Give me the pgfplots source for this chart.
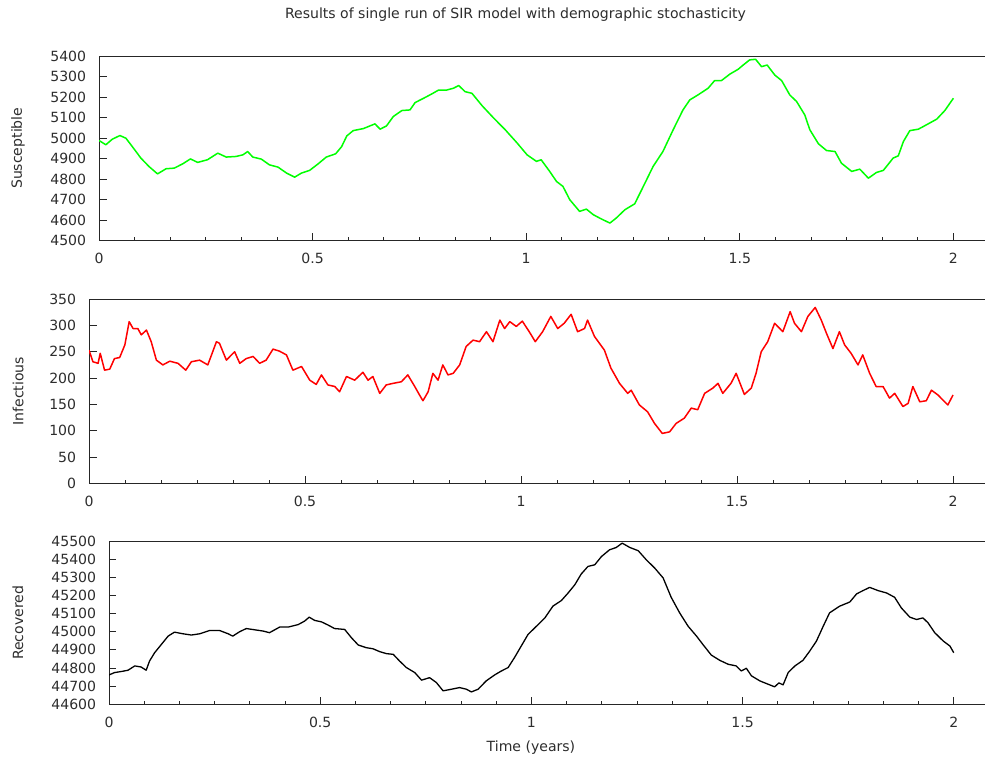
\documentclass[border=0pt]{standalone}
\usepackage{pgfplots}
\pgfplotsset{compat=1.18}
\usepackage{fontspec}
\setmainfont{DejaVu Sans}
\definecolor{txt}{RGB}{45,45,45}
\definecolor{sgreen}{RGB}{0,255,0}
\definecolor{ired}{RGB}{255,0,0}
\begin{document}
\fontsize{14.1}{16}\selectfont
\begin{tikzpicture}
\useasboundingbox (0,0) rectangle (985bp,-758bp);
\pgfplotsset{
  every axis/.append style={
    scale only axis, xmin=0, xmax=2.074,
    separate axis lines,
    axis x line*=box, axis y line*=left,
    axis line style={-, black!85, line width=0.8bp},
    xtick={0,0.5,1,1.5,2}, minor x tick num=5,
    tick align=inside, xtick pos=left, ytick pos=left,
    major tick length=7.5bp, minor tick length=3.5bp,
    tick style={black!85, line width=0.7bp},
    yticklabel style={xshift=-8bp, text=txt},
    xticklabel style={yshift=-8bp, text=txt},
    /pgf/number format/assume math mode=true,
    /pgf/number format/1000 sep={},
    scaled y ticks=false, scaled x ticks=false,
    every axis y label/.style={rotate=90, anchor=center, text=txt},
    every axis plot/.append style={line width=1.5bp, line join=round},
  }
}
\node[text=txt] at (515.5bp,-15bp) {Results of single run of SIR model with demographic stochasticity};

\begin{axis}[at={(99bp,-240.5bp)}, anchor=south west, width=886bp, height=184.5bp,
  ymin=4500, ymax=5400, ytick={4500,4600,...,5400},
  ylabel={Susceptible}, ylabel style={at={(axis description cs:-0.0914,0.5)}}]
\addplot[sgreen] coordinates {
(0,4988)(0.016,4967)(0.031,4994)(0.049,5012)(0.063,4999)(0.078,4958)(0.098,4902)
(0.117,4861)(0.137,4825)(0.157,4850)(0.176,4853)(0.196,4874)(0.214,4898)(0.231,4881)
(0.254,4894)(0.278,4926)(0.298,4907)(0.321,4910)(0.337,4918)(0.348,4934)(0.360,4907)
(0.380,4897)(0.399,4869)(0.419,4858)(0.439,4829)(0.458,4809)(0.474,4829)(0.493,4842)
(0.513,4874)(0.532,4907)(0.554,4923)(0.568,4958)(0.580,5010)(0.595,5036)(0.619,5046)
(0.646,5069)(0.658,5043)(0.673,5059)(0.689,5105)(0.709,5134)(0.728,5137)(0.740,5173)
(0.760,5194)(0.779,5215)(0.795,5234)(0.814,5234)(0.830,5243)(0.842,5256)(0.857,5226)
(0.873,5218)(0.897,5157)(0.924,5097)(0.951,5040)(0.979,4975)(1.002,4918)(1.024,4886)
(1.035,4894)(1.055,4837)(1.071,4788)(1.086,4764)(1.102,4699)(1.125,4642)(1.141,4653)
(1.157,4626)(1.176,4605)(1.196,4585)(1.211,4610)(1.231,4650)(1.254,4679)(1.278,4780)
(1.297,4861)(1.320,4934)(1.344,5040)(1.367,5137)(1.383,5186)(1.402,5210)(1.426,5243)
(1.441,5280)(1.457,5280)(1.477,5312)(1.496,5335)(1.508,5356)(1.523,5381)(1.537,5384)
(1.551,5348)(1.564,5356)(1.582,5307)(1.598,5280)(1.617,5210)(1.633,5178)(1.652,5113)
(1.664,5040)(1.684,4972)(1.703,4939)(1.723,4934)(1.738,4877)(1.762,4837)(1.781,4848)
(1.801,4804)(1.820,4832)(1.836,4842)(1.859,4902)(1.871,4913)(1.883,4983)(1.898,5036)
(1.918,5043)(1.941,5069)(1.961,5092)(1.980,5134)(2.000,5194)
};
\end{axis}

\begin{axis}[at={(89bp,-483.5bp)}, anchor=south west, width=896bp, height=184.5bp,
  ymin=0, ymax=350, ytick={0,50,...,350},
  ylabel={Infectious}, ylabel style={at={(axis description cs:-0.0792,0.5)}}]
\addplot[ired] coordinates {
(0,253)(0.009,231)(0.021,228)(0.026,247)(0.036,215)(0.048,217)(0.059,237)(0.071,239)
(0.083,263)(0.093,307)(0.102,294)(0.113,294)(0.121,282)(0.133,291)(0.144,269)(0.156,234)
(0.171,225)(0.187,232)(0.206,228)(0.224,215)(0.237,231)(0.256,234)(0.275,225)(0.295,269)
(0.302,266)(0.318,234)(0.337,250)(0.349,228)(0.364,237)(0.380,241)(0.395,228)(0.410,234)
(0.426,255)(0.441,251)(0.457,244)(0.472,215)(0.492,222)(0.511,196)(0.526,188)(0.538,206)
(0.553,187)(0.569,184)(0.580,174)(0.596,203)(0.615,196)(0.634,211)(0.646,196)(0.657,203)
(0.673,171)(0.688,187)(0.704,190)(0.723,193)(0.738,206)(0.754,184)(0.765,168)(0.773,157)
(0.785,174)(0.796,209)(0.808,196)(0.819,225)(0.831,206)(0.843,209)(0.858,225)(0.873,260)
(0.889,272)(0.904,269)(0.920,288)(0.935,269)(0.951,310)(0.962,294)(0.974,307)(0.989,298)
(1.003,308)(1.019,288)(1.033,269)(1.050,288)(1.069,317)(1.085,294)(1.100,304)(1.116,321)
(1.131,288)(1.147,294)(1.154,310)(1.170,279)(1.193,253)(1.208,219)(1.228,190)(1.247,171)
(1.255,177)(1.274,149)(1.293,136)(1.309,114)(1.327,95)(1.344,98)(1.359,114)(1.378,124)
(1.394,143)(1.409,140)(1.425,171)(1.444,181)(1.456,190)(1.467,171)(1.486,190)(1.498,209)
(1.517,169)(1.533,181)(1.544,209)(1.556,250)(1.571,269)(1.587,304)(1.606,288)(1.623,326)
(1.633,304)(1.649,288)(1.664,317)(1.681,334)(1.695,310)(1.707,285)(1.722,256)(1.737,288)
(1.749,263)(1.764,247)(1.780,225)(1.791,244)(1.807,209)(1.822,184)(1.838,184)(1.853,162)
(1.865,171)(1.884,146)(1.896,152)(1.907,184)(1.923,155)(1.938,157)(1.950,177)(1.965,168)
(1.977,158)(1.988,149)(2.000,168)
};
\end{axis}

\begin{axis}[at={(109bp,-704bp)}, anchor=south west, width=876bp, height=162.5bp,
  ymin=44600, ymax=45500, ytick={44600,44700,...,45500},
  ylabel={Recovered}, ylabel style={at={(axis description cs:-0.1039,0.5)}},
  xlabel={Time (years)}, xlabel style={at={(axis description cs:0.4817,0)}, anchor=center, yshift=-44bp, text=txt}]
\addplot[black, line width=1.3bp] coordinates {
(0,44761)(0.013,44774)(0.029,44780)(0.045,44787)(0.061,44811)(0.076,44805)(0.088,44787)
(0.096,44838)(0.108,44884)(0.124,44930)(0.140,44976)(0.155,44998)(0.175,44989)(0.195,44982)
(0.215,44989)(0.238,45007)(0.262,45007)(0.282,44989)(0.293,44976)(0.309,45000)(0.325,45018)
(0.345,45011)(0.365,45004)(0.380,44995)(0.404,45026)(0.424,45026)(0.448,45040)(0.463,45059)
(0.474,45081)(0.487,45063)(0.503,45055)(0.519,45037)(0.534,45018)(0.558,45013)(0.574,44967)
(0.590,44927)(0.609,44912)(0.625,44906)(0.641,44890)(0.657,44879)(0.673,44875)(0.688,44838)
(0.704,44802)(0.724,44774)(0.740,44732)(0.759,44746)(0.775,44719)(0.791,44673)(0.811,44682)
(0.830,44691)(0.846,44682)(0.858,44667)(0.874,44682)(0.893,44728)(0.913,44761)(0.929,44783)
(0.945,44802)(0.960,44857)(0.976,44921)(0.992,44985)(1.016,45040)(1.032,45077)(1.051,45142)
(1.071,45173)(1.087,45215)(1.103,45261)(1.118,45320)(1.134,45362)(1.150,45371)(1.166,45417)
(1.185,45454)(1.201,45467)(1.215,45491)(1.233,45467)(1.253,45449)(1.272,45399)(1.292,45353)
(1.312,45298)(1.331,45191)(1.351,45105)(1.371,45031)(1.391,44976)(1.406,44930)(1.426,44871)
(1.446,44842)(1.466,44820)(1.485,44811)(1.497,44783)(1.509,44798)(1.521,44756)(1.541,44728)
(1.560,44710)(1.576,44695)(1.586,44717)(1.596,44706)(1.608,44774)(1.624,44811)(1.643,44842)
(1.659,44893)(1.675,44949)(1.691,45031)(1.706,45105)(1.730,45142)(1.754,45165)(1.770,45210)
(1.785,45228)(1.801,45246)(1.821,45228)(1.841,45215)(1.860,45191)(1.876,45132)(1.896,45081)
(1.912,45068)(1.927,45077)(1.939,45050)(1.955,44995)(1.975,44949)(1.991,44921)(2.000,44884)
};
\end{axis}
\end{tikzpicture}
\end{document}
